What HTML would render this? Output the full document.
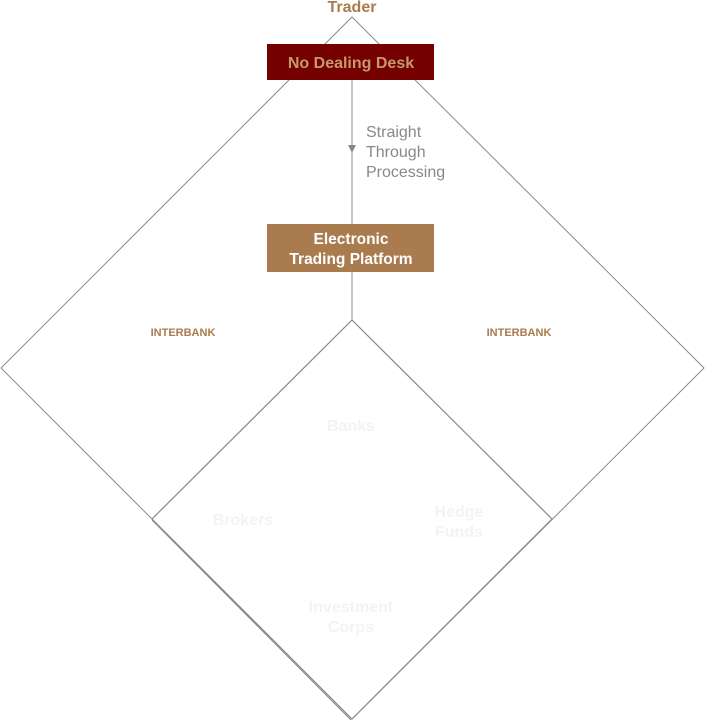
<!DOCTYPE html>
<html><head><style>
body{margin:0;background:#fff;}
svg{display:block;font-family:"Liberation Sans",Arial,sans-serif;}
</style></head><body>
<svg width="705" height="722" viewBox="0 0 705 722">
<polygon points="352,17 704,368 352,719 1,368" fill="#fff" stroke="#888" stroke-width="1"/>
<polygon points="352,320 552,519 352,719 152,519" fill="#fff" stroke="#888" stroke-width="1.2"/>
<line x1="152" y1="520" x2="351" y2="720" stroke="#888" stroke-width="1"/>
<line x1="352" y1="80" x2="352" y2="320" stroke="#888" stroke-width="1"/>
<polygon points="348,145 356,145 352,153" fill="#888"/>
<text x="352" y="12" text-anchor="middle" font-size="16" font-weight="bold" fill="#a97b4f">Trader</text>
<rect x="267" y="44" width="167" height="36" fill="#750000"/>
<text x="351" y="68" text-anchor="middle" font-size="16" font-weight="bold" fill="#c49a6c">No Dealing Desk</text>
<rect x="267" y="224" width="167" height="48" fill="#a97b4f"/>
<text x="351" y="244" text-anchor="middle" font-size="15.5" font-weight="bold" fill="#fff">Electronic</text>
<text x="351" y="264" text-anchor="middle" font-size="15.5" font-weight="bold" fill="#fff">Trading Platform</text>
<text x="366" y="137" font-size="16" fill="#888">Straight</text>
<text x="366" y="157" font-size="16" fill="#888">Through</text>
<text x="366" y="177" font-size="16" fill="#888">Processing</text>
<text x="183" y="336" text-anchor="middle" font-size="11" font-weight="bold" fill="#a97b4f">INTERBANK</text>
<text x="519" y="336" text-anchor="middle" font-size="11" font-weight="bold" fill="#a97b4f">INTERBANK</text>
<g font-size="16" font-weight="bold" fill="#f3f3f3" text-anchor="middle">
<text x="351" y="431">Banks</text>
<text x="243" y="525">Brokers</text>
<text x="459" y="517">Hedge</text>
<text x="459" y="537">Funds</text>
<text x="351" y="612">Investment</text>
<text x="351" y="632">Corps</text>
</g>
</svg>
</body></html>
